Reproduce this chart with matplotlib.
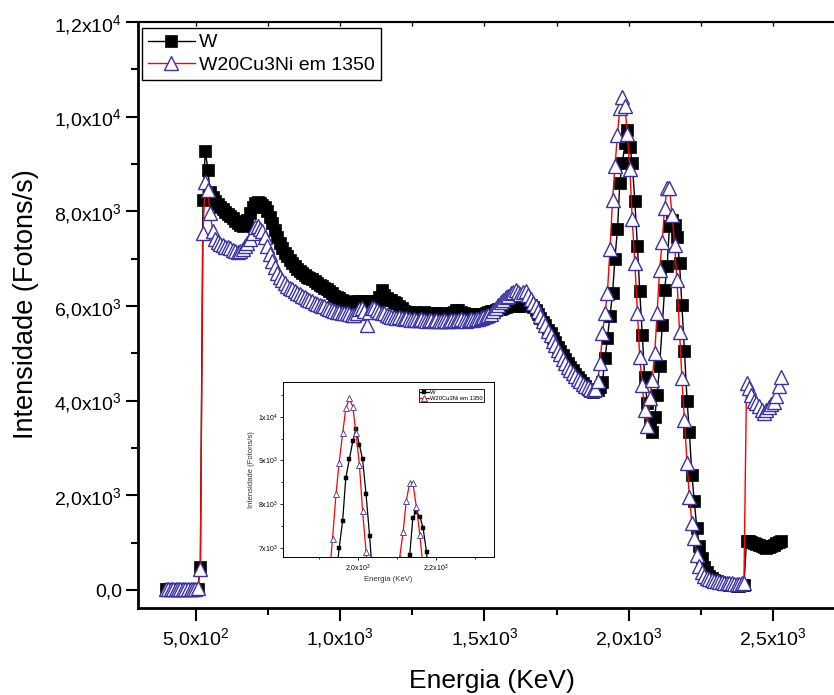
import matplotlib
matplotlib.use('Agg')
import matplotlib.pyplot as plt
from matplotlib.ticker import FixedLocator, NullFormatter

plt.rcParams['font.family'] = ['Liberation Sans', 'DejaVu Sans']
plt.rcParams['mathtext.fontset'] = 'custom'
plt.rcParams['mathtext.rm'] = 'Liberation Sans'
plt.rcParams['mathtext.it'] = 'Liberation Sans:italic'
plt.rcParams['mathtext.bf'] = 'Liberation Sans:bold'

# energia (KeV), mesma grade para as duas amostras
energia = [
    396, 404, 413, 421, 430, 439, 447, 456, 464, 473,
    482, 490, 499, 507, 516, 525, 533, 542, 550, 559,
    568, 576, 585, 593, 602, 611, 619, 628, 636, 645,
    654, 662, 671, 679, 688, 697, 705, 714, 722, 731,
    740, 748, 757, 765, 774, 783, 791, 800, 808, 817,
    826, 834, 843, 851, 860, 869, 877, 886, 894, 903,
    912, 920, 929, 937, 946, 955, 963, 972, 980, 989,
    998, 1006, 1015, 1023, 1032, 1041, 1049, 1058, 1066, 1075,
    1084, 1092, 1101, 1109, 1118, 1127, 1135, 1144, 1152, 1161,
    1170, 1178, 1187, 1195, 1204, 1213, 1221, 1230, 1238, 1247,
    1256, 1264, 1273, 1281, 1290, 1299, 1307, 1316, 1324, 1333,
    1342, 1350, 1359, 1367, 1376, 1385, 1393, 1402, 1410, 1419,
    1428, 1436, 1445, 1453, 1462, 1471, 1479, 1488, 1496, 1505,
    1514, 1522, 1531, 1539, 1548, 1557, 1565, 1574, 1582, 1591,
    1600, 1608, 1617, 1625, 1634, 1643, 1651, 1660, 1668, 1677,
    1686, 1694, 1703, 1711, 1720, 1729, 1737, 1746, 1754, 1763,
    1772, 1780, 1789, 1797, 1806, 1815, 1823, 1832, 1840, 1849,
    1858, 1866, 1875, 1883, 1892, 1901, 1909, 1918, 1926, 1935,
    1944, 1952, 1961, 1969, 1978, 1987, 1995, 2004, 2012, 2021,
    2030, 2038, 2047, 2055, 2064, 2073, 2081, 2090, 2098, 2107,
    2116, 2124, 2133, 2141, 2150, 2159, 2167, 2176, 2184, 2193,
    2202, 2210, 2219, 2227, 2236, 2245, 2253, 2262, 2270, 2279,
    2288, 2296, 2305, 2313, 2322, 2331, 2339, 2348, 2356, 2365,
    2374, 2382, 2391, 2399, 2408, 2417, 2425, 2434, 2442, 2451,
    2460, 2468, 2477, 2485, 2494, 2503, 2511, 2520, 2528,
]

# W (quadrados pretos)
int_w = [
    20, 20, 25, 20, 20, 25, 20, 20, 25, 20,
    20, 25, 20, 30, 480, 8250, 9280, 8880, 8400, 8300,
    8220, 8150, 8100, 8040, 7990, 7950, 7900, 7850, 7800, 7760,
    7720, 7700, 7730, 7820, 7960, 8100, 8180, 8190, 8170, 8140,
    8100, 8000, 7880, 7750, 7600, 7450, 7330, 7220, 7130, 7050,
    6980, 6910, 6850, 6790, 6740, 6700, 6660, 6620, 6590, 6560,
    6530, 6490, 6450, 6420, 6390, 6350, 6320, 6270, 6220, 6180,
    6160, 6130, 6110, 6080, 6050, 6010, 6030, 6100, 6110, 6100,
    6090, 6100, 6110, 6100, 6080, 6110, 6180, 6330, 6240, 6160,
    6130, 6120, 6090, 6070, 6010, 5950, 5900, 5880, 5870, 5860,
    5870, 5860, 5850, 5860, 5870, 5860, 5850, 5850, 5860, 5850,
    5840, 5850, 5840, 5830, 5830, 5850, 5880, 5910, 5920, 5880,
    5850, 5830, 5830, 5820, 5830, 5830, 5820, 5830, 5840, 5850,
    5870, 5890, 5900, 5910, 5930, 5940, 5950, 5970, 5990, 6000,
    6000, 5990, 5990, 6010, 6040, 6060, 6060, 6030, 5980, 5910,
    5830, 5750, 5670, 5590, 5500, 5420, 5330, 5230, 5140, 5050,
    4960, 4880, 4800, 4720, 4640, 4570, 4500, 4430, 4370, 4310,
    4250, 4200, 4190, 4200, 4220, 4280, 4400, 4900, 5320, 5780,
    6270, 7000, 7620, 8600, 9020, 9440, 9710, 9350, 9030, 8220,
    7270, 6310, 5390, 4500, 3950, 3500, 3330, 3650, 4120, 4740,
    5600, 6340, 6840, 7690, 7820, 7710, 7460, 6900, 6030, 5050,
    4000, 3330, 2430, 1870, 1300, 920, 670, 490, 370, 300,
    250, 210, 180, 160, 140, 130, 120, 110, 100, 100,
    90, 90, 100, 110, 1030, 1040, 1020, 1000, 980, 950,
    920, 900, 890, 900, 930, 960, 1000, 1020, 1030,
]

# W20Cu3Ni em 1350 (triangulos)
int_wcuni = [
    30, 30, 30, 30, 30, 30, 30, 30, 30, 30,
    30, 30, 30, 40, 450, 7550, 8630, 8450, 7960, 7580,
    7420, 7350, 7300, 7280, 7240, 7250, 7220, 7190, 7170, 7150,
    7170, 7200, 7260, 7330, 7420, 7550, 7660, 7700, 7620, 7580,
    7450, 7260, 7100, 6950, 6820, 6700, 6610, 6540, 6480, 6430,
    6390, 6350, 6310, 6280, 6250, 6210, 6180, 6150, 6120, 6100,
    6070, 6050, 6030, 6010, 5990, 5960, 5930, 5910, 5890, 5880,
    5870, 5860, 5850, 5850, 5840, 5820, 5800, 5850, 5930, 5950,
    5900, 5600, 5880, 5950, 5960, 5920, 5880, 5860, 5850, 5820,
    5790, 5770, 5760, 5740, 5760, 5740, 5720, 5740, 5720, 5710,
    5730, 5710, 5700, 5720, 5700, 5690, 5710, 5700, 5690, 5700,
    5680, 5690, 5700, 5680, 5690, 5710, 5700, 5690, 5700, 5720,
    5700, 5690, 5700, 5720, 5710, 5730, 5720, 5750, 5760, 5780,
    5800, 5840, 5900, 5960, 6020, 6080, 6130, 6180, 6220, 6270,
    6300, 6330, 6290, 6260, 6300, 6310, 6230, 6140, 6060, 5990,
    5890, 5790, 5690, 5590, 5480, 5380, 5270, 5170, 5070, 4980,
    4890, 4800, 4720, 4650, 4580, 4520, 4460, 4410, 4360, 4310,
    4280, 4250, 4230, 4250, 4420, 4790, 5430, 5850, 6270, 7210,
    8240, 8950, 9620, 10190, 10420, 10230, 9630, 8890, 7840, 6910,
    5850, 4930, 4330, 3800, 3470, 4050, 4440, 5000, 5850, 6770,
    7360, 8070, 8490, 8490, 7930, 7290, 6550, 5460, 4480, 3590,
    2680, 1970, 1410, 1090, 740, 500, 380, 300, 260, 230,
    210, 190, 180, 170, 160, 150, 150, 140, 140, 130,
    130, 130, 140, 150, 4370, 4260, 4120, 4000, 3950, 3880,
    3800, 3740, 3800, 3860, 3920, 3980, 4100, 4300, 4510,
]

x_ticks = [500, 1000, 1500, 2000, 2500]
x_labels = ['5,0x10$^{2}$', '1,0x10$^{3}$', '1,5x10$^{3}$', '2,0x10$^{3}$', '2,5x10$^{3}$']
y_ticks = [0, 2000, 4000, 6000, 8000, 10000, 12000]
y_labels = ['0,0', '2,0x10$^{3}$', '4,0x10$^{3}$', '6,0x10$^{3}$', '8,0x10$^{3}$',
            '1,0x10$^{4}$', '1,2x10$^{4}$']
ins_x_ticks = [2000, 2200]
ins_x_labels = ['2,0x10$^{3}$', '2,2x10$^{3}$']
ins_y_ticks = [7000, 8000, 9000, 10000]
ins_y_labels = ['7x10$^{3}$', '8x10$^{3}$', '9x10$^{3}$', '1x10$^{4}$']

tri_color = '#3a32a0'

W, H = 834, 695
fig = plt.figure(figsize=(W / 100, H / 100), dpi=100)
ax = fig.add_axes([138 / W, 1 - 608 / H, 1 - 138 / W, (608 - 22) / H])

ax.plot(energia, int_w, color='black', lw=1.0, marker='s', ms=8.6,
        mfc='black', mec='black', mew=0.5, label='W')
ax.plot(energia, int_wcuni, color='red', lw=1.0, marker='^', ms=10.5,
        mfc='white', mec=tri_color, mew=1.0, label='W20Cu3Ni em 1350')

ax.set_xlim(300, 2711)
ax.set_ylim(-380, 12000)
ax.set_xticks(x_ticks)
ax.set_xticklabels(x_labels)
ax.set_yticks(y_ticks)
ax.set_yticklabels(y_labels)
ax.xaxis.set_minor_locator(FixedLocator([750, 1250, 1750, 2250]))
ax.yaxis.set_minor_locator(FixedLocator([1000, 3000, 5000, 7000, 9000, 11000]))
ax.tick_params(which='major', direction='out', length=9, width=1.5, labelsize=14)
ax.tick_params(which='minor', direction='out', length=5, width=1.5)
ax.tick_params(axis='x', pad=4)
ax.tick_params(axis='y', pad=2.5)
ax.tick_params(top=False, right=False, which='both')
ax.spines['right'].set_visible(False)
ax.spines['left'].set_linewidth(2.0)
ax.spines['bottom'].set_linewidth(2.0)
ax.spines['top'].set_linewidth(1.5)

top = ax.secondary_xaxis('top')
top.set_xticks(list(range(500, 2751, 250)))
top.xaxis.set_major_formatter(NullFormatter())
top.tick_params(direction='in', length=3, width=1)
top.spines['top'].set_linewidth(1.5)

fig.text(492 / W, 1 - 681 / H, 'Energia (KeV)', fontsize=19, ha='center', va='center')
fig.text(26 / W, 1 - 304 / H, 'Intensidade (Fotons/s)', fontsize=19.5,
         rotation=90, ha='center', va='center')

leg = ax.legend(loc='upper left', bbox_to_anchor=(142 / W, 1 - 28 / H),
                bbox_transform=fig.transFigure, borderaxespad=0, fontsize=14,
                handlelength=2.4, handletextpad=0.25, labelspacing=0.25,
                borderpad=0.3, fancybox=False, framealpha=1)
leg.get_frame().set_edgecolor('black')
leg.get_frame().set_linewidth(1.0)

# inset
axin = fig.add_axes([283 / W, 1 - 557 / H, 211 / W, 175 / H])
axin.plot(energia, int_w, color='black', lw=0.9, marker='s', ms=3.4,
          mfc='black', mec='black', mew=0.3, label='W')
axin.plot(energia, int_wcuni, color='red', lw=0.9, marker='^', ms=4.0,
          mfc='white', mec=tri_color, mew=0.6, label='W20Cu3Ni em 1350')
axin.set_xlim(1808, 2349)
axin.set_ylim(6787, 10794)
axin.set_xticks(ins_x_ticks)
axin.set_xticklabels(ins_x_labels)
axin.set_yticks(ins_y_ticks)
axin.set_yticklabels(ins_y_labels)
axin.xaxis.set_minor_locator(FixedLocator([1900, 2100, 2300]))
axin.yaxis.set_minor_locator(FixedLocator([7500, 8500, 9500, 10500]))
axin.tick_params(which='major', direction='out', length=2.5, width=0.6, labelsize=5, pad=1.5)
axin.tick_params(which='minor', direction='out', length=1.5, width=0.6)
for s in axin.spines.values():
    s.set_linewidth(0.7)
axin.set_xlabel('Energia (KeV)', fontsize=5.5, labelpad=1, color='#333333')
axin.set_ylabel('Intensidade (Fotons/s)', fontsize=5.5, labelpad=2, color='#333333')
leg2 = axin.legend(loc='upper right', bbox_to_anchor=(484 / W, 1 - 389 / H),
                   bbox_transform=fig.transFigure, borderaxespad=0, fontsize=4.2,
                   handlelength=1.6, handletextpad=0.2, labelspacing=0.1,
                   borderpad=0.2, fancybox=False, framealpha=1)
leg2.get_frame().set_edgecolor('black')
leg2.get_frame().set_linewidth(0.6)

fig.savefig('out.png', dpi=100)
